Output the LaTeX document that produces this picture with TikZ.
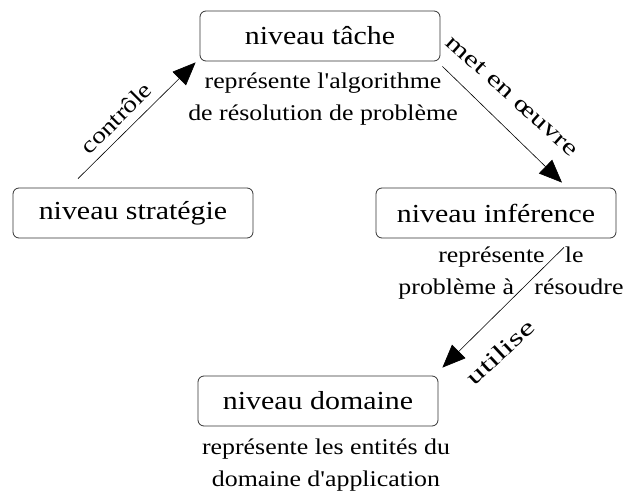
\documentclass[tikz,border=0pt]{standalone}
\usepackage{fontspec}
\newfontfamily\ser{Liberation Serif}
\usetikzlibrary{arrows.meta}
\newcommand{\sx}[1]{\scalebox{1.15}[1]{#1}}
\begin{document}
\begin{tikzpicture}[x=1pt,y=-1pt,
  box/.style={draw=black!80, rounded corners=6pt, line width=0.8pt, minimum width=240pt, minimum height=50pt, inner sep=0pt, font=\ser\fontsize{26}{30}\selectfont},
  desc/.style={align=center, inner sep=0pt, font=\ser\fontsize{22.5}{32}\selectfont},
  lab/.style={inner sep=0pt, font=\ser\fontsize{23}{26}\selectfont},
  arr/.style={-{Triangle[length=23pt,width=19pt]}, line width=0.6pt}]
\useasboundingbox (0,0) rectangle (624,495);
\node[box] (tache) at (320,36) {\sx{niveau tâche}\hspace{6pt}};
\node[box] (strat) at (133,213) {\sx{niveau stratégie}\hspace{16pt}};
\node[box] (inf) at (496,213) {\sx{niveau inférence}};
\node[box] (dom) at (318,401) {\sx{niveau domaine}\hspace{12pt}};
\node[desc] (tdesc) at (323,99) {\sx{représente l\char"27 algorithme}\\\sx{de résolution de problème}};
\node[desc] (idesc) at (511,273) {\sx{représente\hspace{12pt} le}\\\sx{problème à\hspace{12pt} résoudre}};
\node[desc] (ddesc) at (326,465) {\sx{représente les entités du}\\\sx{domaine d\char"27 application}};
\draw[arr] ([shift={(-55,-9)}]strat.north) -- ([shift={(-4,1)}]tache.south west);
\draw[arr] ([shift={(2,5)}]tache.south east) -- ([shift={(66,-5)}]inf.north);
\draw[arr] ([shift={(68,9)}]inf.south) -- ([shift={(4,-8)}]dom.north east);
\node[lab, rotate=45] (l1) at (116,118) {\scalebox{1.2}[1]{contrôle}};
\node[lab, rotate=-42] (l2) at (512,96) {\scalebox{1.35}[1]{met en œuvre}};
\node[lab, rotate=43] (l3) at (500,352) {\scalebox{1.5}[1]{utilise}};
\end{tikzpicture}
\end{document}
